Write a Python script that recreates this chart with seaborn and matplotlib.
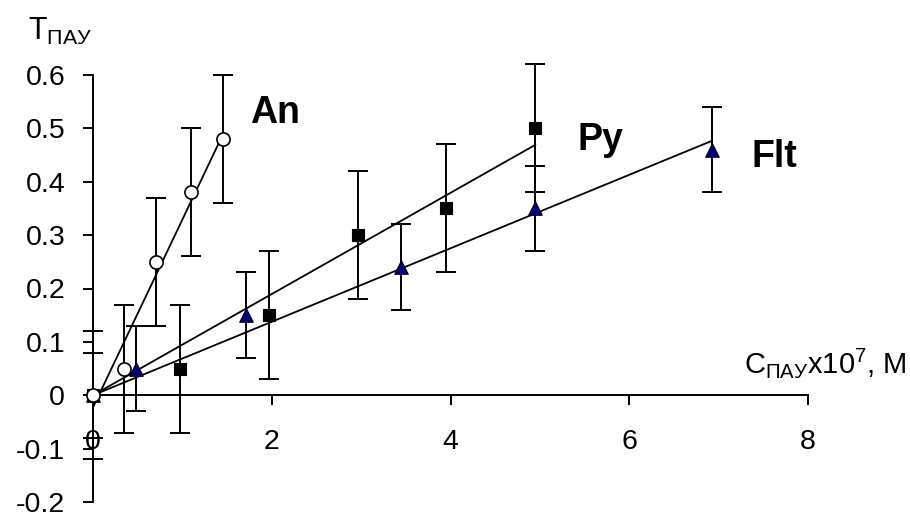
import numpy as np
import pandas as pd
import matplotlib
matplotlib.use('Agg')
import matplotlib.pyplot as plt
import seaborn as sns

# data
an_x = [0, 0.35, 0.71, 1.10, 1.46]
an_y = [0, 0.05, 0.25, 0.38, 0.48]
an_err = 0.12

py_x = [0, 0.97, 1.97, 2.96, 3.95, 4.95]
py_y = [0, 0.05, 0.15, 0.30, 0.35, 0.50]
py_err = 0.12

flt_x = [0, 0.48, 1.71, 3.45, 4.95, 6.93]
flt_y = [0, 0.05, 0.15, 0.24, 0.35, 0.46]
flt_err = 0.08

y_ticks = [-0.2, -0.1, 0, 0.1, 0.2, 0.3, 0.4, 0.5, 0.6]
x_ticks = [0, 2, 4, 6, 8]

sns.set_style('ticks')
plt.rcParams['font.family'] = ['Liberation Sans', 'DejaVu Sans']
plt.rcParams['mathtext.fontset'] = 'custom'
plt.rcParams['mathtext.rm'] = 'Liberation Sans'
plt.rcParams['mathtext.it'] = 'Liberation Sans:italic'
plt.rcParams['axes.unicode_minus'] = False
plt.rcParams['text.color'] = 'black'
plt.rcParams['axes.labelcolor'] = 'black'
plt.rcParams['xtick.color'] = 'black'
plt.rcParams['ytick.color'] = 'black'

fig = plt.figure(figsize=(9.1, 5.2), dpi=100)
ax = fig.add_axes([93 / 910, 18 / 520, 715 / 910, 427 / 520])

# trend lines: An with intercept, Py and Flt through origin
a_slope, a_int = np.polyfit(an_x, an_y, 1)
px, py_ = np.array(py_x), np.array(py_y)
p_slope = (px * py_).sum() / (px * px).sum()
fx, fy = np.array(flt_x), np.array(flt_y)
f_slope = (fx * fy).sum() / (fx * fx).sum()

lw = 1.3
ax.plot([0, max(an_x)], [a_int, a_int + a_slope * max(an_x)], color='black', lw=lw, zorder=2, clip_on=False)
ax.plot([0, max(py_x)], [0, p_slope * max(py_x)], color='black', lw=lw, zorder=2)
ax.plot([0, max(flt_x)], [0, f_slope * max(flt_x)], color='black', lw=lw, zorder=2)

# error bars
for x, y, e in [(flt_x, flt_y, flt_err), (py_x, py_y, py_err), (an_x, an_y, an_err)]:
    ax.errorbar(x, y, yerr=e, fmt='none', ecolor='black', elinewidth=1.4,
                capsize=7.5, capthick=1.4, zorder=3, clip_on=False)

df_flt = pd.DataFrame({'x': flt_x, 'y': flt_y})
df_py = pd.DataFrame({'x': py_x, 'y': py_y})
df_an = pd.DataFrame({'x': an_x, 'y': an_y})

sns.scatterplot(data=df_flt, x='x', y='y', marker='^', s=95, color='#000080',
                edgecolor='black', linewidth=0.8, ax=ax, zorder=4, clip_on=False)
sns.scatterplot(data=df_py, x='x', y='y', marker='s', s=70, color='black',
                edgecolor='black', linewidth=0.8, ax=ax, zorder=5, clip_on=False)
sns.scatterplot(data=df_an, x='x', y='y', marker='o', s=90, color='white',
                edgecolor='black', linewidth=1.2, ax=ax, zorder=6, clip_on=False)

ax.set_xlim(0, 8)
ax.set_ylim(-0.2, 0.6)
ax.set_xticks(x_ticks)
ax.set_xticklabels([f'{v:g}' for v in x_ticks])
ax.set_yticks(y_ticks)
ax.set_yticklabels([f'{v:g}' for v in y_ticks])
ax.set_xlabel('')
ax.set_ylabel('')

sns.despine(ax=ax)
ax.spines['bottom'].set_position(('data', 0))
for s in ['left', 'bottom']:
    ax.spines[s].set_linewidth(1.4)
    ax.spines[s].set_color('black')
ax.tick_params(axis='y', direction='out', length=7, width=1.4, pad=13, labelsize=20.5, colors='black')
ax.tick_params(axis='x', direction='out', length=7, width=1.4, pad=17, labelsize=20.5, colors='black')

# series labels
ax.text(250 / 910, 1 - 123 / 520, 'An', transform=fig.transFigure, fontsize=27,
        fontweight='bold', va='baseline', ha='left', color='black')
ax.text(577 / 910, 1 - 150 / 520, 'Py', transform=fig.transFigure, fontsize=27,
        fontweight='bold', va='baseline', ha='left', color='black')
ax.text(752 / 910, 1 - 167 / 520, 'Flt', transform=fig.transFigure, fontsize=27,
        fontweight='bold', va='baseline', ha='left', color='black')

# axis titles
fig.text(28 / 910, 1 - 40 / 520, r'T$_{\mathrm{ПАУ}}$', fontsize=22, va='baseline', ha='left', color='black')
fig.text(907 / 910, 1 - 373 / 520, r'C$_{\mathrm{ПАУ}}$x10$^{7}$, M', fontsize=21,
         va='baseline', ha='right', color='black')

fig.savefig('out.png', dpi=100)
